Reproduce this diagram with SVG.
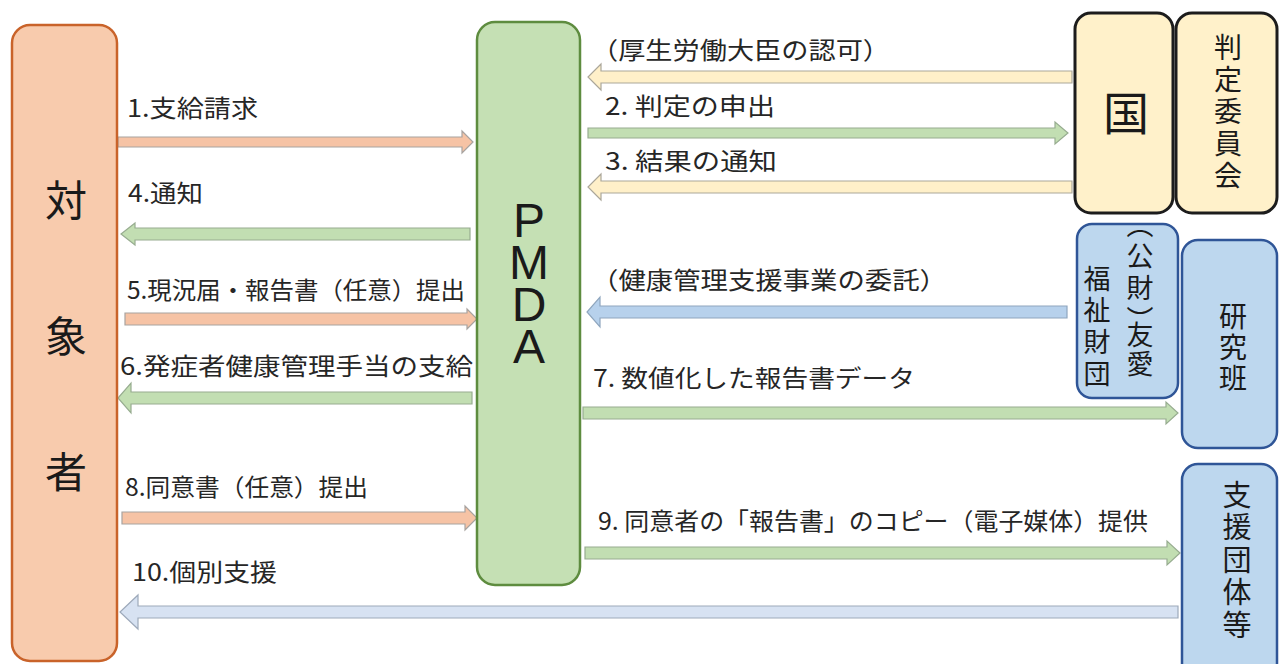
<svg xmlns="http://www.w3.org/2000/svg" width="1279" height="664" viewBox="0 0 1279 664">
<style>
.lbl{font-family:"Noto Sans CJK JP","Noto Sans",sans-serif;font-size:24px;fill:#262626;}
.big{font-family:"Noto Sans CJK JP",sans-serif;fill:#1a1a1a;text-anchor:middle;}
.vt{font-family:"Noto Sans CJK JP",sans-serif;fill:#1a1a1a;writing-mode:vertical-rl;}
.pm{font-family:"Liberation Sans","Noto Sans",sans-serif;font-size:48px;fill:#1a1a1a;writing-mode:vertical-rl;text-orientation:upright;}
.or{fill:#F6C3A5;stroke:#A8A3A0;stroke-width:1.2;}
.gr{fill:#C2DEB2;stroke:#97AC90;stroke-width:1.2;}
.ye{fill:#FFF0C9;stroke:#ABA79A;stroke-width:1.2;}
.bl{fill:#B7D1EC;stroke:#8FA6BE;stroke-width:1.2;}
.lb{fill:#D7E2F2;stroke:#9DA9BA;stroke-width:1.2;}
</style>
<rect width="1279" height="664" fill="#ffffff"/>
<g id="connectors">
<path class="or" d="M118 137H462V131L473 142L462 153V147H118Z"/>
<path class="gr" d="M470 228H135V223L121 234L135 245V240H470Z"/>
<path class="or" d="M125 313H467V309L477 319L467 329V325H125Z"/>
<path class="gr" d="M472 392H131V383L118 398L131 413V404H472Z"/>
<path class="or" d="M122 512H465V506L477 518L465 530V524H122Z"/>
<path class="lb" d="M1178 606H138V595L120 612L138 629V618H1178Z"/>
<path class="ye" d="M1072 71H601V64L588 77L601 90V83H1072Z"/>
<path class="gr" d="M588 128H1055V122L1068 133L1055 144V138H588Z"/>
<path class="ye" d="M1072 181H601V174L588 187L601 200V193H1072Z"/>
<path class="bl" d="M1067 306H600V297L587 312L600 327V318H1067Z"/>
<path class="gr" d="M583 407H1166V402L1178 413L1166 424V419H583Z"/>
<path class="gr" d="M585 547H1167V541L1180 553L1167 565V559H585Z"/>
<text class="lbl" x="127" y="117" textLength="131" lengthAdjust="spacingAndGlyphs">1.支給請求</text>
<text class="lbl" x="128" y="202" textLength="75" lengthAdjust="spacingAndGlyphs">4.通知</text>
<text class="lbl" x="127" y="299" textLength="338" lengthAdjust="spacingAndGlyphs">5.現況届・報告書（任意）提出</text>
<text class="lbl" x="120" y="375" textLength="353" lengthAdjust="spacingAndGlyphs">6.発症者健康管理手当の支給</text>
<text class="lbl" x="125" y="496" textLength="243" lengthAdjust="spacingAndGlyphs">8.同意書（任意）提出</text>
<text class="lbl" x="132" y="581" textLength="145" lengthAdjust="spacingAndGlyphs">10.個別支援</text>
<text class="lbl" x="591" y="59" textLength="299" lengthAdjust="spacingAndGlyphs">（厚生労働大臣の認可）</text>
<text class="lbl" x="605" y="115" textLength="170" lengthAdjust="spacingAndGlyphs">2. 判定の申出</text>
<text class="lbl" x="605" y="170" textLength="172" lengthAdjust="spacingAndGlyphs">3. 結果の通知</text>
<text class="lbl" x="591" y="289" textLength="356" lengthAdjust="spacingAndGlyphs">（健康管理支援事業の委託）</text>
<text class="lbl" x="593" y="387" textLength="322" lengthAdjust="spacingAndGlyphs">7. 数値化した報告書データ</text>
<text class="lbl" x="598" y="530" textLength="550" lengthAdjust="spacingAndGlyphs">9. 同意者の「報告書」のコピー（電子媒体）提供</text>
</g>
<g id="taishosha">
<rect x="12" y="25" width="105" height="636" rx="18" fill="#F8CBAD" stroke="#C9632A" stroke-width="2.5"/>
<text class="big" font-size="42"><tspan x="66" y="216">対</tspan><tspan x="66" y="352">象</tspan><tspan x="66" y="488">者</tspan></text>
</g>
<g id="pmda">
<rect x="477" y="22" width="103" height="563" rx="18" fill="#C5E0B4" stroke="#5E8C3F" stroke-width="2.5"/>
<text class="pm" x="529" y="194" letter-spacing="-11">PMDA</text>
</g>
<g id="kuni">
<rect x="1075" y="13" width="98" height="200" rx="16" fill="#FFF1CA" stroke="#1c1c1c" stroke-width="3"/>
<text class="big" font-size="46" x="1126" y="130">国</text>
</g>
<g id="hantei">
<rect x="1176" y="13" width="101" height="200" rx="16" fill="#FFF1CA" stroke="#1c1c1c" stroke-width="3"/>
<text class="vt" font-size="28" x="1228" y="33" letter-spacing="4">判定委員会</text>
</g>
<g id="yuai">
<rect x="1077" y="224" width="101" height="174" rx="15" fill="#BDD7EE" stroke="#2F5597" stroke-width="2.5"/>
<text class="vt" font-size="27" x="1140"><tspan y="211" letter-spacing="4.7">（公財）</tspan><tspan y="321" letter-spacing="2">友愛</tspan></text>
<text class="vt" font-size="27" x="1097" y="265" letter-spacing="4.7">福祉財団</text>
</g>
<g id="kenkyu">
<rect x="1182" y="240" width="95" height="208" rx="16" fill="#BDD7EE" stroke="#2F5597" stroke-width="2.5"/>
<text class="vt" font-size="28" x="1233" y="302" letter-spacing="3">研究班</text>
</g>
<g id="shien">
<rect x="1182" y="464" width="95" height="215" rx="16" fill="#BDD7EE" stroke="#2F5597" stroke-width="2.5"/>
<text class="vt" font-size="29" x="1237" y="480" letter-spacing="3.5">支援団体等</text>
</g>
</svg>
